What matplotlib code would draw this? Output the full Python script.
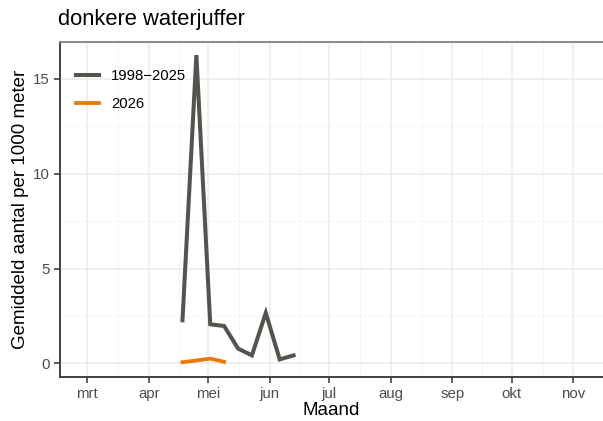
import matplotlib
matplotlib.use("Agg")
import matplotlib.pyplot as plt
import matplotlib.dates as mdates
from datetime import date

# weekly averages (placed on the 2026 calendar)
weeks_hist = [date(2026, 4, 18), date(2026, 4, 25), date(2026, 5, 2), date(2026, 5, 9),
              date(2026, 5, 16), date(2026, 5, 23), date(2026, 5, 30), date(2026, 6, 6),
              date(2026, 6, 13)]
vals_hist = [2.27, 16.26, 2.06, 1.97, 0.78, 0.42, 2.66, 0.21, 0.42]

weeks_2026 = [date(2026, 4, 18), date(2026, 4, 25), date(2026, 5, 2), date(2026, 5, 9)]
vals_2026 = [0.06, 0.15, 0.25, 0.08]

month_ticks = [date(2026, m, 1) for m in range(3, 12)]
month_labels = ["mrt", "apr", "mei", "jun", "jul", "aug", "sep", "okt", "nov"]

plt.rcParams["font.family"] = ["Liberation Sans", "DejaVu Sans"]

fig = plt.figure(figsize=(6.03, 4.21), dpi=100)
ax = fig.add_axes([59.5 / 603, 44 / 421, (603 - 59.5) / 603, (377 - 42) / 421])

ax.plot(weeks_hist, vals_hist, color="#56534E", lw=2.9, solid_joinstyle="miter",
        label="1998\u22122025", zorder=3)
ax.plot(weeks_2026, vals_2026, color="#E8780A", lw=2.7, label="2026", zorder=4)

ax.set_xlim(date(2026, 2, 17), date(2026, 11, 11))
ax.set_ylim(-0.72, 16.95)

ax.set_xticks(month_ticks)
ax.set_xticklabels(month_labels)
# minor gridlines halfway between months
nums = [mdates.date2num(d) for d in month_ticks]
mid = [(nums[i] + nums[i + 1]) / 2 for i in range(len(nums) - 1)]
mid = [nums[0] - 14] + mid + [nums[-1] + 15]
ax.set_xticks(mid, minor=True)
ax.set_yticks([0, 5, 10, 15])
ax.set_yticks([2.5, 7.5, 12.5], minor=True)

ax.grid(True, which="major", color="#ebebeb", lw=1.1)
ax.grid(True, which="minor", color="#f4f4f4", lw=0.6)
ax.set_axisbelow(True)

ax.tick_params(which="major", length=4, width=1.1, color="#333333", labelsize=10.8,
               labelcolor="#4d4d4d", pad=3)
ax.tick_params(which="minor", length=0)

for s in ["left", "bottom"]:
    ax.spines[s].set_color("#333333")
    ax.spines[s].set_linewidth(1.3)
ax.spines["top"].set_color("#7f7f7f")
ax.spines["top"].set_linewidth(1.3)
ax.spines["right"].set_visible(False)

ax.set_xlabel("Maand", fontsize=13.5, labelpad=1)
ax.set_ylabel("Gemiddeld aantal per 1000 meter", fontsize=13.5, labelpad=3)
fig.text(58 / 603, 1 - 20 / 421, "donkere waterjuffer", fontsize=15.8, va="center", ha="left")

leg = ax.legend(loc="upper left", bbox_to_anchor=(0.006, 0.96), frameon=False,
                fontsize=10.7, handlelength=1.55, labelspacing=0.95, handletextpad=0.8)

fig.savefig("out.png", dpi=100)
